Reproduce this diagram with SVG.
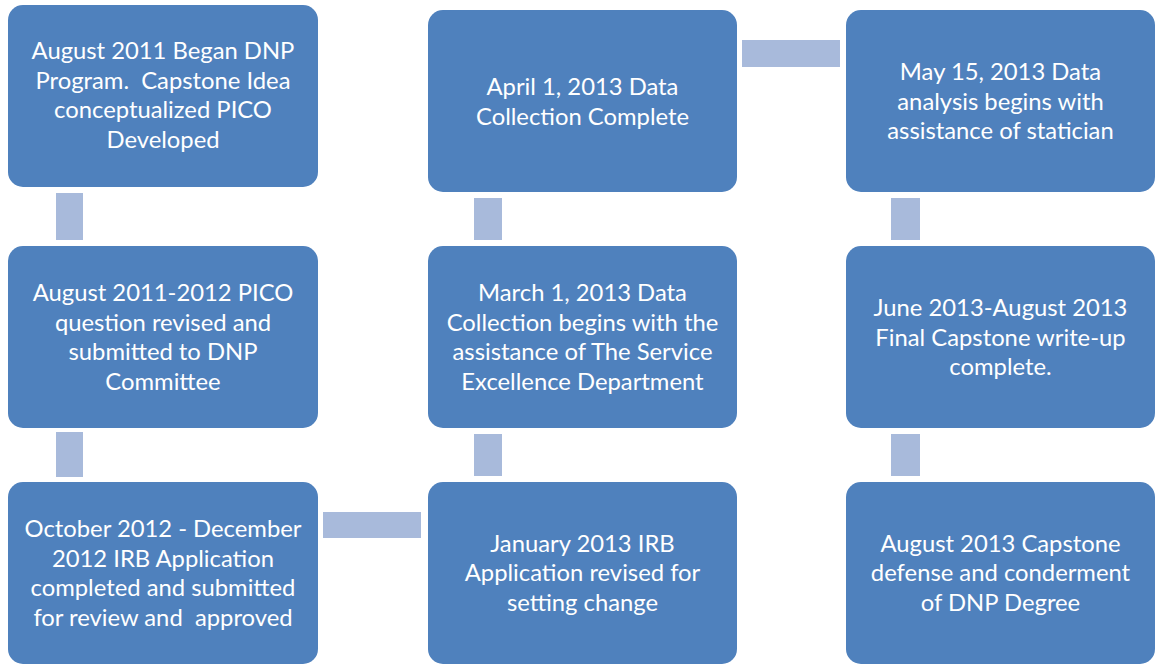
<svg xmlns="http://www.w3.org/2000/svg" width="1155" height="664" viewBox="0 0 1155 664">
<style>
.box{fill:#4f81bd;}
.conn{fill:#a8badb;}
.t{font-family:Lato,"Liberation Sans",sans-serif;font-size:23.8px;fill:#ffffff;text-anchor:middle;white-space:pre;}
</style>
<rect width="1155" height="664" fill="#ffffff"/>
<g id="connectors">
<rect class="conn" x="56" y="193" width="27" height="47"/>
<rect class="conn" x="56" y="432" width="27" height="45"/>
<rect class="conn" x="323" y="512" width="98" height="26"/>
<rect class="conn" x="474" y="198" width="28" height="42"/>
<rect class="conn" x="474" y="434" width="28" height="42"/>
<rect class="conn" x="742" y="40" width="98" height="27"/>
<rect class="conn" x="891" y="198" width="29" height="42"/>
<rect class="conn" x="891" y="434" width="29" height="42"/>
</g>
<g id="n1">
<rect class="box" x="8" y="5" width="310" height="182" rx="15"/>
<text class="t" xml:space="preserve"><tspan x="163" y="59">August 2011 Began DNP</tspan><tspan x="163" y="88.5">Program.  Capstone Idea</tspan><tspan x="163" y="118">conceptualized PICO</tspan><tspan x="163" y="147.5">Developed</tspan></text>
</g>
<g id="n2">
<rect class="box" x="8" y="246" width="310" height="182" rx="15"/>
<text class="t"><tspan x="163" y="301">August 2011-2012 PICO</tspan><tspan x="163" y="330.5">question revised and</tspan><tspan x="163" y="360">submitted to DNP</tspan><tspan x="163" y="389.5">Committee</tspan></text>
</g>
<g id="n3">
<rect class="box" x="8" y="482" width="310" height="182" rx="15"/>
<text class="t" xml:space="preserve"><tspan x="163" y="537">October 2012 - December</tspan><tspan x="163" y="566.5">2012 IRB Application</tspan><tspan x="163" y="596">completed and submitted</tspan><tspan x="163" y="625.5">for review and  approved</tspan></text>
</g>
<g id="n4">
<rect class="box" x="428" y="482" width="309" height="182" rx="15"/>
<text class="t"><tspan x="582.5" y="551.5">January 2013 IRB</tspan><tspan x="582.5" y="581">Application revised for</tspan><tspan x="582.5" y="610.5">setting change</tspan></text>
</g>
<g id="n5">
<rect class="box" x="428" y="246" width="309" height="182" rx="15"/>
<text class="t"><tspan x="582.5" y="301">March 1, 2013 Data</tspan><tspan x="582.5" y="330.5">Collection begins with the</tspan><tspan x="582.5" y="360">assistance of The Service</tspan><tspan x="582.5" y="389.5">Excellence Department</tspan></text>
</g>
<g id="n6">
<rect class="box" x="428" y="10" width="309" height="182" rx="15"/>
<text class="t"><tspan x="582.5" y="95">April 1, 2013 Data</tspan><tspan x="582.5" y="124.5">Collection Complete</tspan></text>
</g>
<g id="n7">
<rect class="box" x="846" y="10" width="309" height="182" rx="15"/>
<text class="t"><tspan x="1000.5" y="80">May 15, 2013 Data</tspan><tspan x="1000.5" y="109.5">analysis begins with</tspan><tspan x="1000.5" y="139">assistance of statician</tspan></text>
</g>
<g id="n8">
<rect class="box" x="846" y="246" width="309" height="182" rx="15"/>
<text class="t"><tspan x="1000.5" y="316">June 2013-August 2013</tspan><tspan x="1000.5" y="345.5">Final Capstone write-up</tspan><tspan x="1000.5" y="375">complete.</tspan></text>
</g>
<g id="n9">
<rect class="box" x="846" y="482" width="309" height="182" rx="15"/>
<text class="t"><tspan x="1000.5" y="551.5">August 2013 Capstone</tspan><tspan x="1000.5" y="581">defense and conderment</tspan><tspan x="1000.5" y="610.5">of DNP Degree</tspan></text>
</g>
</svg>
